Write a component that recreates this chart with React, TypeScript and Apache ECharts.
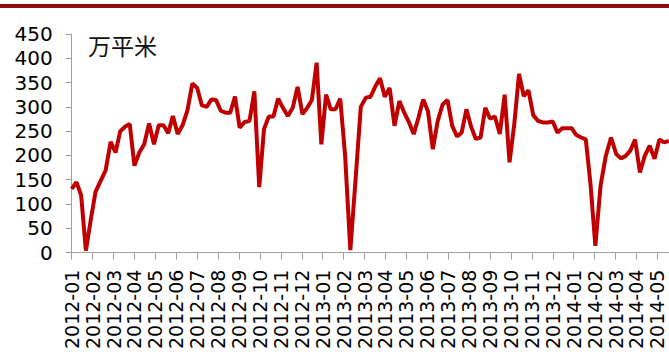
import React, { useEffect, useRef } from 'react';
import * as echarts from 'echarts';

// weekly series starting on this date (one value per week)
const startDate = [2012, 0, 1];

const monthLabels = [
  '2012-01', '2012-02', '2012-03', '2012-04', '2012-05', '2012-06', '2012-07', '2012-08',
  '2012-09', '2012-10', '2012-11', '2012-12', '2013-01', '2013-02', '2013-03', '2013-04',
  '2013-05', '2013-06', '2013-07', '2013-08', '2013-09', '2013-10', '2013-11', '2013-12',
  '2014-01', '2014-02', '2014-03', '2014-04', '2014-05',
];

const weeklyValues = [
  131, 145, 118, 4, 65, 125, 147, 169, 228, 206, 250, 259, 265, 179, 206, 223, 266, 223, 262, 262,
  246, 281, 244, 262, 293, 348, 339, 303, 300, 315, 314, 292, 288, 288, 321, 257, 269, 271, 332, 135,
  254, 280, 280, 317, 298, 281, 298, 341, 285, 298, 314, 391, 223, 325, 295, 295, 317, 200, 5, 150,
  300, 319, 321, 342, 359, 321, 339, 261, 312, 288, 268, 244, 278, 315, 291, 213, 271, 305, 314, 261,
  239, 247, 295, 259, 234, 237, 298, 276, 280, 244, 325, 186, 265, 368, 322, 334, 283, 271, 268, 268,
  270, 247, 256, 256, 256, 242, 237, 233, 140, 14, 138, 199, 237, 203, 194, 199, 210, 233, 165, 199,
  220, 193, 233, 227, 230,
];

const unitLabel = '万平米';

function weekToMonthPos(i: number): number {
  const d = new Date(Date.UTC(startDate[0], startDate[1], startDate[2] + 7 * i));
  const y = d.getUTCFullYear();
  const m = d.getUTCMonth();
  const day = d.getUTCDate();
  const dim = new Date(Date.UTC(y, m + 1, 0)).getUTCDate();
  return (y - 2012) * 12 + m + (day - 1) / dim;
}

export default function App() {
  const ref = useRef<HTMLDivElement>(null);
  useEffect(() => {
    if (!ref.current) return;
    const chart = echarts.init(ref.current, null, { renderer: 'svg' });
    const seriesData = weeklyValues.map((v, i) => [weekToMonthPos(i), v]);
    const gridLeft = 71.7;
    const gridRight = -2;
    const pxPerMonth = 20.986;
    const xMax = (669 - gridRight - gridLeft) / pxPerMonth;
    chart.setOption({
      animation: false,
      backgroundColor: '#ffffff',
      grid: { left: gridLeft, right: gridRight, top: 34, bottom: 97.7, containLabel: false },
      xAxis: {
        type: 'value',
        min: 0,
        max: xMax,
        interval: 1,
        axisLine: { show: true, lineStyle: { color: '#a0a0a0', width: 1 } },
        axisTick: { show: true, length: 7, lineStyle: { color: '#a0a0a0' } },
        splitLine: { show: false },
        axisLabel: {
          rotate: 90,
          margin: 17,
          fontSize: 19,
          color: '#000000',
          fontFamily: 'DejaVu Sans, sans-serif',
          showMaxLabel: false,
          formatter: (v: number) => {
            const r = Math.round(v);
            if (Math.abs(v - r) > 1e-6) return '';
            return monthLabels[r] ?? '';
          },
        },
      },
      yAxis: {
        type: 'value',
        min: 0,
        max: 450,
        interval: 50,
        axisLine: { show: true, lineStyle: { color: '#a0a0a0', width: 1 } },
        axisTick: { show: true, length: 6, lineStyle: { color: '#a0a0a0' } },
        splitLine: { show: false },
        axisLabel: {
          margin: 19,
          fontSize: 20,
          color: '#000000',
          fontFamily: 'DejaVu Sans, sans-serif',
        },
      },
      graphic: [
        {
          type: 'rect',
          left: 0,
          top: 4,
          shape: { width: 669, height: 4 },
          style: { fill: '#8f0d0d' },
          silent: true,
        },
        {
          type: 'text',
          left: 88,
          top: 33,
          style: {
            text: unitLabel,
            fontSize: 23,
            fill: '#111111',
            fontFamily: 'Noto Sans CJK SC, sans-serif',
          },
          silent: true,
        },
      ],
      series: [
        {
          type: 'line',
          data: seriesData,
          showSymbol: false,
          symbol: 'none',
          lineStyle: { color: '#c00000', width: 4 },
          clip: true,
        },
      ],
    });
    return () => chart.dispose();
  }, []);
  return (
    <div
      ref={ref}
      style={{ position: 'fixed', left: 0, top: 0, width: 669, height: 352, background: '#fff' }}
    />
  );
}
